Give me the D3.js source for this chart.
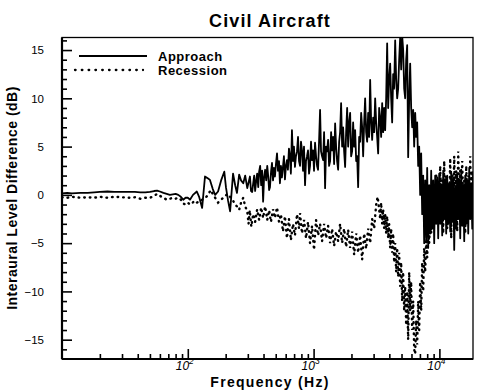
<!DOCTYPE html>
<html><head><meta charset="utf-8">
<script src="https://cdn.jsdelivr.net/npm/d3@7"></script>
<style>
html,body{margin:0;padding:0;background:#fff;}
svg{display:block;}
text{font-family:"Liberation Sans",Arial,Helvetica,sans-serif;fill:#000;}
</style></head>
<body>
<svg id="chart" width="477" height="390"></svg>
<script>
const title = "Civil Aircraft";
const xLabel = "Frequency (Hz)";
const yLabel = "Interaural Level Difference (dB)";
const seriesNames = ["Approach", "Recession"];
const yMajorTicks = [-15, -10, -5, 0, 5, 10, 15];
const xMajorExps = [2, 3, 4];

const approachFreq = [10,11,12,14,16,18,20,23,26,30,34,38,42,46,50,54,57,60,64,68,72,76,80,84,88,92,96,
100,104,110,118,123,130,137,145,150,158,165,174,184,195,201,209,217,229,238,246,256,265,276,286,297,
312,318,325,331,337,343,350,356,363,369,376,383,390,397,404,412,420,428,436,443,
450,459,467,476,484,493,502,512,521,531,540,550,560,571,581,592,603,614,625,637,
649,660,673,686,698,711,724,738,752,766,780,794,809,824,839,855,870,887,903,920,
937,954,972,990,1008,1027,1046,1066,1085,1105,1126,1146,1168,1190,1212,1234,1257,1280,1304,1328,
1353,1378,1403,1429,1456,1483,1510,1538,1567,1596,1625,1655,1686,1717,1749,1781,1814,1848,1882,1917,
1952,1988,2025,2062,2101,2139,2180,2219,2260,2302,2344,2388,2432,2477,2523,2569,2617,2665,2715,2764,
2816,2868,2921,2975,3030,3086,3143,3201,3260,3320,3382,3444,3508,3573,3639,3706,3775,3844,3915,3987,
4061,4137,4213,4291,4370,4451,4533,4617,4702,4789,4878,4968,5060,5153,5249,5346,5444,5545,5647,5752,5858,
5966,6076,6189,6303,6420,6538,6659,6782,6908,7035,7165,7298,7433,7570,7710,7853,7998,8146,8296,8450,8606,8765,8927,9092,9260,9432,9606,9784,9965,
10149,10337,10528,10722,10921,11123,11328,11538,11751,11968,12190,12415,12645,12878,13117,13359,13606,13858,14114,14375,14641,14912,15188,15468,15755,16046,16343,16645,16953,17266,17586,17911,18242,18500];
const approachDb = [0.15,0.2,0.15,0.2,0.2,0.25,0.3,0.35,0.3,0.3,0.3,0.3,0.25,0.25,0.3,0.4,0.45,0.35,0.2,0.1,0.0,0.05,0.1,0.0,-0.2,-0.5,-0.3,
-0.3,-0.5,0.0,0.35,-0.2,-1.35,1.9,1.7,1.55,0.6,0.0,0.35,1.5,2.4,0.8,-0.6,-1.7,2.2,1.0,0.2,2.1,1.5,1.2,2.0,0.7,
1.9,0.4,0.3,1.2,2.0,0.4,1.5,2.2,0.8,2.4,3.0,1.0,2.5,-0.7,1.8,2.6,1.5,3.0,1.9,0.5,
0.8,2.4,3.3,1.5,2.8,1.9,3.2,4.3,2.5,3.5,1.2,3.0,1.8,2.9,4.0,1.6,3.0,3.6,2.6,4.8,
4.0,2.2,6.7,3.5,5.0,2.9,4.0,4.5,6.0,3.5,3.0,5.5,4.6,2.5,5.0,1.0,3.5,4.0,4.6,2.2,
3.0,5.5,3.6,4.6,2.5,5.4,4.0,3.0,2.6,5.5,8.8,4.5,4.0,3.6,6.5,0.7,5.0,4.5,5.7,3.0,
3.5,6.5,4.6,6.0,3.2,7.4,5.0,3.5,2.6,5.5,6.5,9.5,5.0,7.0,4.5,2.9,6.5,9.0,5.0,7.5,
8.5,4.0,4.5,7.5,5.0,6.7,3.5,4.0,0.8,6.0,5.5,8.5,7.0,4.0,7.5,10.0,6.5,5.5,8.5,6.0,
11.9,7.5,5.7,8.0,6.5,10.0,7.5,6.0,4.3,9.0,8.0,6.0,9.5,6.5,9.0,6.7,10.0,15.7,9.0,12.0,
13.6,10.0,7.5,12.5,11.0,16.0,12.0,10.0,11.0,14.0,16.3,13.0,16.5,15.0,11.0,10.0,14.0,15.5,3.9,10.0,13.6,
9.0,7.0,8.8,5.0,8.5,6.0,7.5,3.0,5.0,0.0,4.3,-2.0,2.0,-5.0,1.5,-4.5,2.8,-5.5,1.0,-4.0,2.5,-3.5,1.5,-5.0,2.0,-3.0,1.8,-4.5,2.2,
-3.0,1.0,-4.2,2.5,-2.5,1.5,-4.0,2.0,-3.0,1.2,-3.8,2.4,-2.8,1.8,-5.7,0.8,-3.5,2.2,-2.5,1.5,-4.5,2.6,-3.2,1.0,-4.8,2.0,-3.0,1.5,-4.0,2.8,-2.5,1.2,-3.5,2.0];

const recessionFreq = [10,11,12,14,16,18,20,23,26,30,34,38,42,46,50,54,57,60,64,68,72,76,80,84,88,92,96,
100,104,108,113,118,123,130,137,145,152,158,165,174,184,195,207,217,229,238,246,256,265,276,286,297,
304,311,320,331,343,356,369,383,397,412,428,443,458,476,493,512,531,550,571,592,614,637,660,686,711,738,766,780,809,840,871,903,937,972,
1008,1046,1085,1126,1168,1212,1257,1304,1353,1403,1456,1510,1567,1625,1686,1749,1814,1882,1952,2025,2101,2180,2260,2344,2432,2523,2617,2715,2816,2921,3030,3143,3231,3320,
3382,3444,3508,3573,3639,3706,3775,3844,3915,3987,4061,4137,4213,4291,4370,4451,4533,4617,4702,4789,4878,4968,5060,5153,5249,5346,5444,5545,5647,5752,5858,5966,6076,6189,6303,6420,6538,6659,6782,6908,7035,7165,7298,7433,7570,7710,7853,7998,8146,8296,8450,8606,8765,8927,9092,9260,9432,9606,9784,9965,
10149,10337,10528,10722,10921,11123,11328,11538,11751,11968,12190,12415,12645,12878,13117,13359,13606,13858,14114,14375,14641,14912,15188,15468,15755,16046,16343,16645,16953,17266,17586,17911,18242,18500];
const recessionDb = [-0.25,-0.3,-0.2,-0.3,-0.25,-0.3,-0.2,-0.3,-0.2,-0.25,-0.3,-0.25,-0.4,-0.3,-0.3,-0.1,0.1,-0.1,-0.3,-0.5,-0.4,-0.3,-0.4,-0.3,-0.5,-0.9,-1.0,
-0.8,-1.0,-0.9,-0.6,-0.8,-0.7,-0.5,-0.35,0.0,0.5,0.1,-0.3,-0.8,-0.5,-0.2,0.1,-0.2,-0.6,-1.0,-1.2,-1.55,-0.8,-0.3,-1.2,-1.7,
-3.0,-1.6,-3.3,-2.0,-2.8,-1.5,-2.6,-1.3,-2.4,-1.2,-2.6,-1.6,-2.8,-1.5,-2.4,-1.3,-2.8,-2.0,-3.8,-2.2,-4.5,-2.5,-4.7,-3.0,-4.2,-2.0,-3.5,-1.9,-4.0,-2.6,-4.5,-2.8,-5.0,-3.2,
-5.7,-2.6,-4.2,-3.0,-4.8,-3.0,-4.5,-3.2,-5.0,-3.5,-5.3,-3.8,-4.8,-3.0,-5.0,-3.5,-5.4,-3.6,-5.5,-3.8,-6.2,-4.0,-6.0,-4.2,-6.7,-4.0,-5.6,-3.5,-5.0,-2.5,-3.5,-1.0,-0.2,-1.5,
-2.5,-0.8,-3.0,-1.5,-3.5,-2.0,-4.0,-2.2,-4.5,-3.0,-5.5,-3.5,-6.0,-4.0,-7.0,-5.0,-8.0,-5.5,-8.5,-6.0,-9.5,-7.0,-11.0,-8.0,-12.0,-9.5,-13.5,-10.0,-15.0,-8.0,-12.0,-9.0,-14.0,-11.0,-16.0,-16.5,-13.0,-15.5,-11.0,-14.0,-9.0,-12.0,-7.0,-10.0,-5.5,-8.0,-4.5,-6.5,-3.5,-5.0,-2.5,-4.0,-1.0,-3.5,0.5,-2.5,2.0,-1.5,1.0,-3.0,
3.0,-1.0,1.5,-4.0,3.5,-2.0,2.0,-3.5,1.0,-1.5,3.8,-4.5,2.0,-2.0,4.0,-1.0,2.5,-3.8,4.5,0.0,2.5,-2.5,3.5,-1.0,1.5,-4.0,3.0,-0.5,2.0,-2.5,4.0,-1.5,2.5,0.5];

const svg = d3.select("#chart");
svg.append("rect").attr("width",477).attr("height",390).attr("fill","#fff");

const L = 62, R = 473, T = 37.5, B = 359;
const x = d3.scaleLog().domain([10, 18500]).range([L, R]);
const y = d3.scaleLinear().domain([-17, 16.3]).range([B, T]);

svg.append("defs").append("clipPath").attr("id","plotclip")
  .append("rect").attr("x",L).attr("y",T).attr("width",R-L).attr("height",B-T);

const xMinor = [];
[10,100,1000,10000].forEach(d => { for (let k=2;k<=9;k++){ if (d*k<=18500) xMinor.push(d*k);} });
const xMajor = xMajorExps.map(e => Math.pow(10,e));

const gx = svg.append("g").attr("transform",`translate(0,${B})`);
gx.call(d3.axisBottom(x).tickValues(xMinor).tickSizeInner(-5).tickSizeOuter(0).tickFormat(""));
const gx2 = svg.append("g").attr("transform",`translate(0,${B})`);
gx2.call(d3.axisBottom(x).tickValues(xMajor).tickSizeInner(-10).tickSizeOuter(0).tickFormat(""));
[gx,gx2].forEach(g=>{ g.select(".domain").remove(); g.selectAll("line").attr("stroke","#000").attr("stroke-width",1.6); });

const yMinor = d3.range(-16, 17).filter(v => v % 5 !== 0);
const gy = svg.append("g").attr("transform",`translate(${L},0)`);
gy.call(d3.axisRight(y).tickValues(yMinor).tickSizeInner(5).tickSizeOuter(0).tickFormat(""));
const gy2 = svg.append("g").attr("transform",`translate(${L},0)`);
gy2.call(d3.axisLeft(y).tickValues(yMajorTicks).tickSizeInner(-10).tickSizeOuter(0).tickPadding(18).tickFormat(d3.format("d")));
[gy,gy2].forEach(g=>{ g.select(".domain").remove(); g.selectAll("line").attr("stroke","#000").attr("stroke-width",1.6); });
gy2.selectAll("text").attr("font-size","11.5px").attr("font-family","Liberation Sans, Arial, sans-serif").attr("fill","#000");

xMajorExps.forEach(e => {
  const t = svg.append("text").attr("x", x(Math.pow(10,e)) - 3).attr("y", 370)
    .attr("text-anchor","middle").attr("font-size","12px").attr("font-style","italic");
  t.append("tspan").text("10");
  t.append("tspan").attr("dy",-6).attr("font-size","8.5px").text(String(e));
});

svg.append("rect").attr("x",L).attr("y",T).attr("width",R-L).attr("height",B-T)
  .attr("fill","none").attr("stroke","#000").attr("stroke-width",1.3);
svg.append("line").attr("x1",L).attr("x2",R).attr("y1",B).attr("y2",B).attr("stroke","#000").attr("stroke-width",2.2);
svg.append("line").attr("x1",L).attr("x2",L).attr("y1",T).attr("y2",B).attr("stroke","#000").attr("stroke-width",2.2);

const line = d3.line().x(d => x(d[0])).y(d => y(d[1]));
const plot = svg.append("g").attr("clip-path","url(#plotclip)");
const recData = recessionFreq.map((f,i)=>[f, recessionDb[i]]);
const appData = approachFreq.map((f,i)=>[f, approachDb[i]]);
plot.append("path").datum(recData).attr("d", line).attr("fill","none")
  .attr("stroke","#000").attr("stroke-width",2.4).attr("stroke-linecap","round")
  .attr("stroke-dasharray","0.6,5");
plot.append("path").datum(appData).attr("d", line).attr("fill","none")
  .attr("stroke","#000").attr("stroke-width",1.8).attr("stroke-linejoin","round");

svg.append("line").attr("x1",79).attr("x2",147).attr("y1",56).attr("y2",56)
  .attr("stroke","#000").attr("stroke-width",1.8);
svg.append("line").attr("x1",75).attr("x2",143).attr("y1",70).attr("y2",70)
  .attr("stroke","#000").attr("stroke-width",2.3).attr("stroke-linecap","round").attr("stroke-dasharray","0.6,6.2");
svg.append("text").attr("x",158).attr("y",60.5).attr("font-size","13px").attr("font-weight","bold")
  .attr("letter-spacing","0.5px").text(seriesNames[0]);
svg.append("text").attr("x",158).attr("y",74.5).attr("font-size","13px").attr("font-weight","bold")
  .attr("letter-spacing","0.5px").text(seriesNames[1]);

svg.append("text").attr("x",270).attr("y",27).attr("text-anchor","middle")
  .attr("font-size","18px").attr("font-weight","bold").attr("letter-spacing","1.1px").text(title);
svg.append("text").attr("x",270).attr("y",386.5).attr("text-anchor","middle")
  .attr("font-size","14px").attr("font-weight","bold").attr("letter-spacing","1.3px").text(xLabel);
svg.append("text").attr("transform","translate(17,198) rotate(-90)").attr("text-anchor","middle")
  .attr("font-size","14px").attr("font-weight","bold").attr("letter-spacing","0.5px").text(yLabel);
</script>
</body></html>
